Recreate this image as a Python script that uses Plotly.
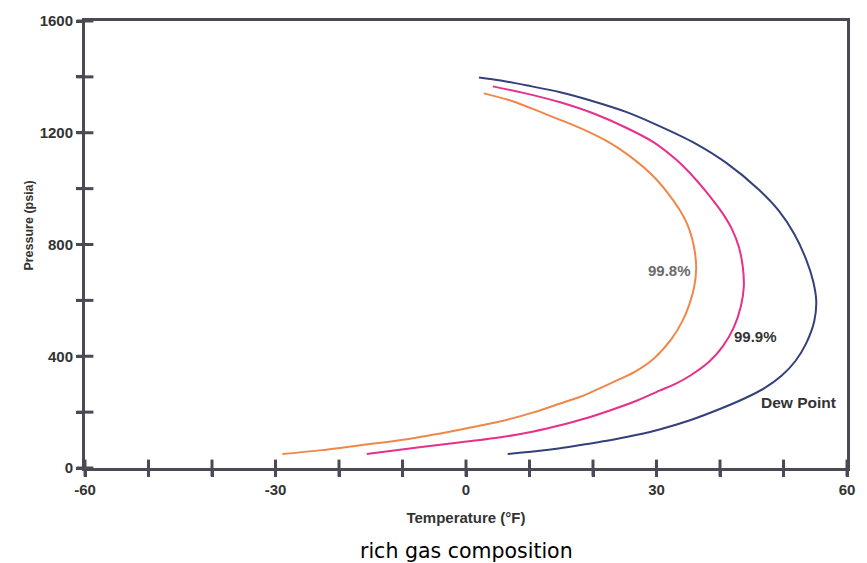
import plotly.graph_objects as go

# Dew point curve (Temperature °F, Pressure psia)
dew_T = [2.03, 5.47, 9.69, 14.84, 20.0, 25.31, 30.47, 35.94, 40.94, 46.09, 49.22, 51.72, 53.59, 54.69, 55.16,
         54.84, 53.59, 51.88, 49.69, 46.88, 43.75, 40.16, 35.16, 30.47, 26.56, 22.66, 18.75, 14.84, 10.94, 6.56]
dew_P = [1398, 1387, 1369, 1345, 1313, 1274, 1224, 1164, 1093, 997, 922, 837, 745, 667, 596,
         525, 447, 383, 330, 284, 248, 213, 170, 138, 117, 99, 85, 71, 60, 50]

# 99.9% curve
q999_T = [4.22, 9.38, 14.84, 20.31, 25.31, 29.69, 33.13, 35.94, 38.28, 40.31, 41.88, 42.97, 43.59, 43.75, 43.28,
          42.19, 40.47, 38.28, 35.47, 32.97, 30.47, 26.56, 22.66, 18.75, 14.84, 10.63, 5.47, -0.78, -7.03, -15.63]
q999_P = [1366, 1341, 1309, 1267, 1217, 1164, 1103, 1039, 976, 915, 855, 791, 720, 649, 578,
          504, 436, 380, 333, 301, 277, 238, 206, 177, 153, 131, 110, 92, 75, 50]

# 99.8% curve
q998_T = [2.81, 7.34, 12.19, 17.66, 22.66, 26.56, 29.38, 31.72, 33.59, 34.84, 35.63, 36.09, 36.25, 35.94, 35.16,
          34.06, 32.34, 29.69, 26.56, 22.66, 17.97, 14.84, 10.63, 5.47, -0.78, -8.59, -16.41, -22.66, -28.91]
q998_P = [1341, 1313, 1270, 1220, 1164, 1103, 1047, 986, 926, 873, 820, 766, 713, 649, 585,
          525, 461, 394, 344, 302, 255, 231, 199, 167, 138, 106, 82, 64, 50]

x_ticks = [-60, -50, -40, -30, -20, -10, 0, 10, 20, 30, 40, 50, 60]
x_labels = ["-60", "", "", "-30", "", "", "0", "", "", "30", "", "", "60"]
y_ticks = [0, 200, 400, 600, 800, 1000, 1200, 1400, 1600]
y_labels = ["0", "", "400", "", "800", "", "1200", "", "1600"]

AX = "#4a4a55"
TXT = "#333333"
BOLD = "Liberation Sans, Arial, sans-serif"

fig = go.Figure()
fig.add_trace(go.Scatter(x=q998_T, y=q998_P, mode="lines", line=dict(color="#f0874a", width=2, shape="spline", smoothing=0.8), showlegend=False))
fig.add_trace(go.Scatter(x=q999_T, y=q999_P, mode="lines", line=dict(color="#e8308a", width=2, shape="spline", smoothing=0.8), showlegend=False))
fig.add_trace(go.Scatter(x=dew_T, y=dew_P, mode="lines", line=dict(color="#34407a", width=2, shape="spline", smoothing=0.8), showlegend=False))

# crossing tick marks (both halves) drawn as line markers at the axis tick values
fig.add_trace(go.Scatter(x=x_ticks, y=[y_ticks[0]] * len(x_ticks), mode="markers", cliponaxis=False,
                         marker=dict(symbol="line-ns-open", size=12, color=AX, line=dict(color=AX, width=3)),
                         showlegend=False, hoverinfo="skip"))
fig.add_trace(go.Scatter(x=[x_ticks[0]] * len(y_ticks), y=y_ticks, mode="markers", cliponaxis=False,
                         marker=dict(symbol="line-ew-open", size=12, color=AX, line=dict(color=AX, width=3)),
                         showlegend=False, hoverinfo="skip"))

tickfont = dict(family=BOLD, size=15, color=TXT)

fig.update_layout(
    width=867, height=563,
    margin=dict(l=85, r=12, t=17, b=95),
    paper_bgcolor="white", plot_bgcolor="white",
    xaxis=dict(range=[-60, 60], tickvals=x_ticks, ticktext=["<b>%s</b>" % t if t else "" for t in x_labels],
               ticks="outside", ticklen=6, tickwidth=3, tickcolor=AX,
               showline=True, linecolor=AX, linewidth=3, mirror=True, showgrid=False, zeroline=False,
               tickfont=tickfont,
               title=dict(text="<b>Temperature (°F)</b>", font=dict(family=BOLD, size=15, color=TXT), standoff=16)),
    yaxis=dict(range=[0, 1600], tickvals=y_ticks, ticktext=["<b>%s</b>" % t if t else "" for t in y_labels],
               ticks="outside", ticklen=6, tickwidth=3, tickcolor=AX,
               showline=True, linecolor=AX, linewidth=3, mirror=True, showgrid=False, zeroline=False,
               tickfont=tickfont),
    annotations=[
        dict(x=-0.0846, xref="paper", y=866, yref="y", text="<b>Pressure (psia)</b>", textangle=-90, showarrow=False,
             font=dict(family=BOLD, size=12.5, color=TXT)),
        dict(x=32.0, y=707, text="<b>99.8%</b>", showarrow=False, font=dict(family=BOLD, size=15, color="#6a6a6a")),
        dict(x=45.6, y=472, text="<b>99.9%</b>", showarrow=False, font=dict(family=BOLD, size=15, color="#333333")),
        dict(x=52.3, y=234, text="<b>Dew Point</b>", showarrow=False, font=dict(family=BOLD, size=15.5, color="#333333")),
        dict(x=0.5, xref="paper", y=-0.185, yref="paper", yanchor="middle", text="rich gas composition", showarrow=False,
             font=dict(family="DejaVu Sans, Verdana, sans-serif", size=20.5, color="black")),
    ],
)

fig.write_html("out.html")
